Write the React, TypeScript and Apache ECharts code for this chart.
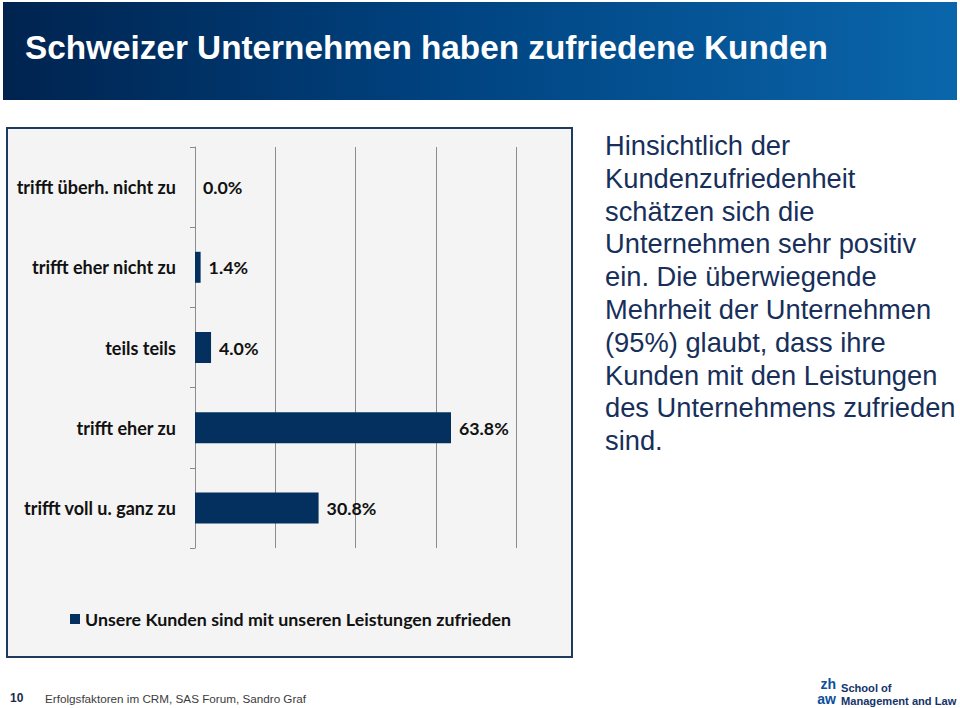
import React, { useEffect, useRef } from "react";
import * as echarts from "echarts";

const categories = [
  "trifft überh. nicht zu",
  "trifft eher nicht zu",
  "teils teils",
  "trifft eher zu",
  "trifft voll u. ganz zu",
];
const values = [0.0, 1.4, 4.0, 63.8, 30.8];
const seriesName = "Unsere Kunden sind mit unseren Leistungen zufrieden";
const xTicks = { min: 0, max: 80, interval: 20 };

const titleText = "Schweizer Unternehmen haben zufriedene Kunden";
const paragraphLines = [
  "Hinsichtlich der",
  "Kundenzufriedenheit",
  "schätzen sich die",
  "Unternehmen sehr positiv",
  "ein. Die überwiegende",
  "Mehrheit der Unternehmen",
  "(95%) glaubt, dass ihre",
  "Kunden mit den Leistungen",
  "des Unternehmens zufrieden",
  "sind.",
];
const footerPage = "10";
const footerText = "Erfolgsfaktoren im CRM, SAS Forum, Sandro Graf";
const logoMark = ["zh", "aw"];
const logoText = ["School of", "Management and Law"];

const BAR = "#03305f";
const CAL = "Lato, 'Open Sans', sans-serif";
const ARIAL = "'Liberation Sans', Arial, sans-serif";

export default function App() {
  const ref = useRef<HTMLDivElement>(null);
  useEffect(() => {
    document.body.style.margin = "0";
    const chart = echarts.init(ref.current!, null, { renderer: "svg" });
    chart.setOption({
      animation: false,
      backgroundColor: "#ffffff",
      grid: { left: 195, right: 444, top: 147, bottom: 160, containLabel: false },
      legend: {
        left: 70,
        top: 610,
        padding: 0,
        icon: "rect",
        itemWidth: 10,
        itemHeight: 10,
        itemGap: 5,
        textStyle: { fontFamily: CAL, fontWeight: "bold", fontSize: 17.8, color: "#111" },
        data: [seriesName],
      },
      xAxis: {
        type: "value",
        min: xTicks.min,
        max: xTicks.max,
        interval: xTicks.interval,
        axisLabel: { show: false },
        axisLine: { show: false },
        axisTick: { show: false },
        splitLine: { show: true, lineStyle: { color: "#8c8c8c", width: 1 } },
      },
      yAxis: {
        type: "category",
        inverse: true,
        data: categories,
        axisLine: { show: true, lineStyle: { color: "#8c8c8c", width: 1 } },
        axisTick: { show: true, length: 5, lineStyle: { color: "#8c8c8c" } },
        axisLabel: {
          margin: 19,
          fontFamily: CAL,
          fontWeight: "bold",
          fontSize: 18,
          color: "#111",
        },
      },
      series: [
        {
          name: seriesName,
          type: "bar",
          data: values,
          barWidth: 31,
          itemStyle: { color: BAR },
          label: {
            show: true,
            position: "right",
            distance: 8,
            formatter: (p: any) => Number(p.value).toFixed(1) + "%",
            fontFamily: CAL,
            fontWeight: "bold",
            fontSize: 17.8,
            color: "#111",
          },
          z: 3,
        },
      ],
      graphic: [
        {
          type: "rect",
          z: -10,
          shape: { x: 3, y: 2, width: 954, height: 98 },
          style: {
            fill: new echarts.graphic.LinearGradient(0, 0, 1, 0, [
              { offset: 0, color: "#00234f" },
              { offset: 0.45, color: "#00427f" },
              { offset: 1, color: "#0a66ab" },
            ]),
          },
        },
        {
          type: "text",
          z: 5,
          x: 25,
          y: 47,
          style: {
            text: titleText,
            fill: "#ffffff",
            font: `bold 33.3px ${ARIAL}`,
            verticalAlign: "middle",
          },
        },
        {
          type: "rect",
          z: -10,
          shape: { x: 7, y: 128, width: 565, height: 529 },
          style: { fill: "#f4f4f4", stroke: "#1e3b5e", lineWidth: 2 },
        },
        {
          type: "text",
          z: 5,
          x: 605,
          y: 129,
          style: {
            text: paragraphLines.join("\n"),
            fill: "#172f5a",
            font: `27.3px ${ARIAL}`,
            lineHeight: 32.8,
            verticalAlign: "top",
          },
        },
        {
          type: "text",
          z: 5,
          x: 10,
          y: 698,
          style: {
            text: footerPage,
            fill: "#1a2a4a",
            font: `bold 12px ${ARIAL}`,
            verticalAlign: "middle",
          },
        },
        {
          type: "text",
          z: 5,
          x: 45,
          y: 698,
          style: {
            text: footerText,
            fill: "#3c3c3c",
            font: `11.7px ${ARIAL}`,
            verticalAlign: "middle",
          },
        },
        {
          type: "text",
          z: 5,
          x: 836,
          y: 677,
          style: {
            text: logoMark.join("\n"),
            fill: "#0b4f9c",
            font: `bold 14px ${ARIAL}`,
            lineHeight: 14.5,
            align: "right",
            verticalAlign: "top",
          },
        },
        {
          type: "text",
          z: 5,
          x: 841,
          y: 681,
          style: {
            text: logoText.join("\n"),
            fill: "#14336a",
            font: `bold 11.1px ${ARIAL}`,
            lineHeight: 13,
            verticalAlign: "top",
          },
        },
      ],
    });
    return () => chart.dispose();
  }, []);
  return (
    <div
      ref={ref}
      style={{ position: "fixed", left: 0, top: 0, width: 960, height: 708 }}
    />
  );
}
